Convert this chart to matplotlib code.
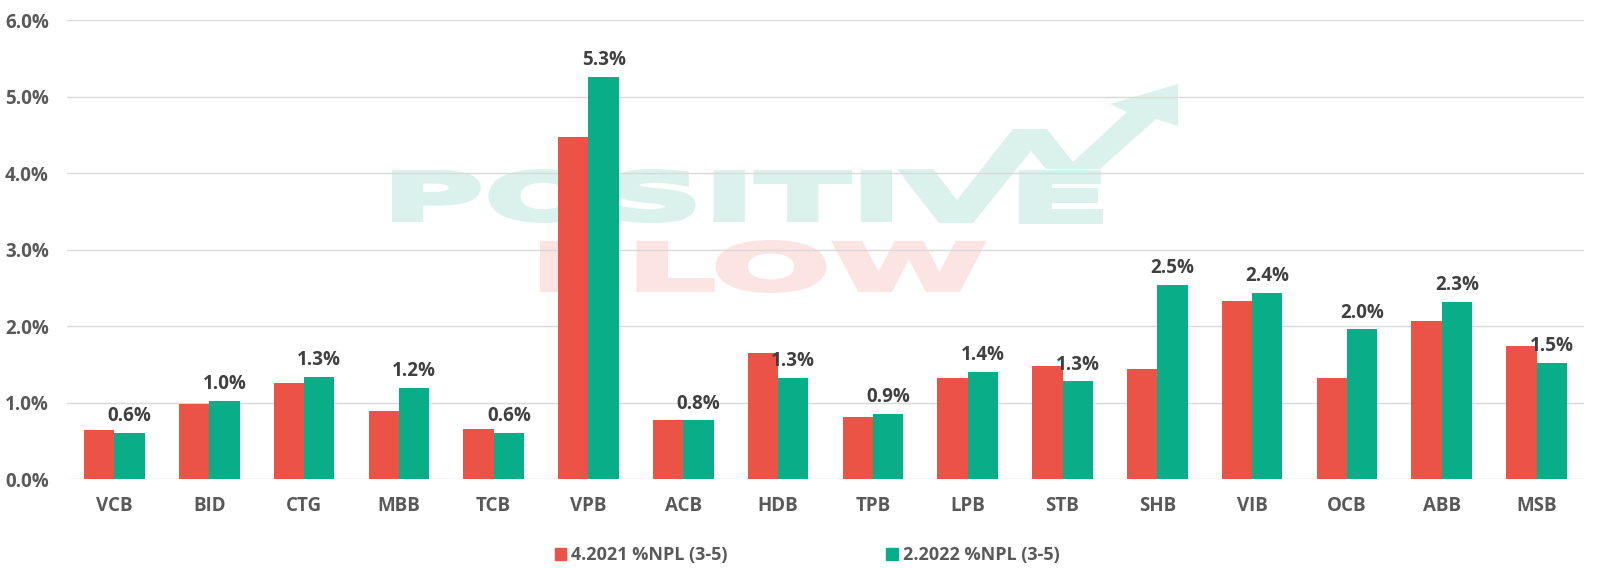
import matplotlib
matplotlib.use('Agg')
import matplotlib.pyplot as plt
import numpy as np
from matplotlib.textpath import TextPath
from matplotlib.font_manager import FontProperties
from matplotlib.patches import PathPatch, Polygon, Patch
from matplotlib.transforms import Affine2D

# data (% NPL, groups 3-5)
banks = ['VCB', 'BID', 'CTG', 'MBB', 'TCB', 'VPB', 'ACB', 'HDB',
         'TPB', 'LPB', 'STB', 'SHB', 'VIB', 'OCB', 'ABB', 'MSB']
npl_2021 = [0.64, 0.98, 1.26, 0.89, 0.66, 4.47, 0.78, 1.65,
            0.82, 1.33, 1.48, 1.44, 2.33, 1.33, 2.07, 1.75]
npl_2022 = [0.61, 1.03, 1.34, 1.20, 0.61, 5.26, 0.77, 1.33,
            0.86, 1.41, 1.28, 2.54, 2.44, 1.96, 2.32, 1.52]
series_names = ['4.2021 %NPL (3-5)', '2.2022 %NPL (3-5)']

red = '#EA5345'
green = '#09AE89'
W, H = 1597, 568

fig = plt.figure(figsize=(W / 100, H / 100), dpi=100)

# watermark layer (pixel coords, y down)
bg = fig.add_axes([0, 0, 1, 1], zorder=0)
bg.set_xlim(0, W)
bg.set_ylim(H, 0)
bg.axis('off')

wm_font = FontProperties(family='DejaVu Sans', weight='bold')
stroke = 5  # px, thickens the letters a bit

def fit_text(s, x0, y0, x1, y1, color):
    tp = TextPath((0, 0), s, size=100, prop=wm_font)
    ext = tp.get_extents()
    a = stroke / 2
    tr = (Affine2D().translate(-ext.x0, -ext.y0)
          .scale((x1 - x0 - 2 * a) / ext.width, -(y1 - y0 - 2 * a) / ext.height)
          .translate(x0 + a, y1 - a))
    bg.add_patch(PathPatch(tr.transform_path(tp), facecolor=color, edgecolor=color,
                           lw=stroke * 72 / 100, joinstyle='miter'))

mint = '#DAF2EB'
pink = '#FCE4E3'
fit_text('POSITI', 392, 169, 892, 223, mint)
fit_text('E', 1018, 169, 1102, 223, mint)
fit_text('FLOW', 540, 240, 985, 293, pink)
arrow = [(897, 169), (933, 169), (957, 200), (1013, 129), (1047, 129),
         (1073, 162), (1127, 112), (1110, 104), (1178, 84), (1178, 126),
         (1156, 119), (1100, 169), (1046, 169), (1031, 151), (973, 223),
         (939, 223)]
bg.add_patch(Polygon(arrow, closed=True, color=mint, lw=0))

# main chart
ax = fig.add_axes([67 / W, 1 - 479.4 / H, (1584 - 67) / W, (479.4 - 20.4) / H], zorder=1)
ax.patch.set_alpha(0)

x = np.arange(len(banks))
w = 0.32
ax.bar(x - w / 2, npl_2021, w, color=red, zorder=3, label=series_names[0])
ax.bar(x + w / 2, npl_2022, w, color=green, zorder=3, label=series_names[1])

ax.set_xlim(-0.5, len(banks) - 0.5)
ax.set_ylim(0, 6)
ax.set_yticks(np.arange(0, 7, 1))
ax.set_yticklabels([f'{v:.1f}%' for v in np.arange(0, 7, 1)])
ax.set_xticks(x)
ax.set_xticklabels(banks)
ax.grid(axis='y', color='#D9D9D9', lw=1)
ax.set_axisbelow(True)
for sp in ax.spines.values():
    sp.set_visible(False)

ax.tick_params(axis='y', length=0, pad=13, labelcolor='#595959')
ax.tick_params(axis='x', length=0, pad=12, labelcolor='#595959')
for lab in ax.get_xticklabels() + ax.get_yticklabels():
    lab.set_fontfamily('Open Sans')
    lab.set_fontweight('bold')
    lab.set_fontsize(13.5)

for xi, v in zip(x, npl_2022):
    ax.annotate(f'{v:.1f}%', (xi + w / 2, v), xytext=(0, 8.5),
                textcoords='offset points', ha='center', va='baseline',
                color='#404040', fontfamily='Open Sans', fontweight='bold',
                fontsize=13.5, zorder=4)

handles = [Patch(color=red, label=series_names[0]),
           Patch(color=green, label=series_names[1])]
leg = fig.legend(handles=handles, loc='center', bbox_to_anchor=(807 / W, 1 - 555 / H),
                 ncol=2, frameon=False, handlelength=0.65, handleheight=0.65,
                 handletextpad=0.25, columnspacing=8.8,
                 prop=FontProperties(family='Open Sans', weight='bold', size=13))
for t in leg.get_texts():
    t.set_color('#595959')

fig.savefig('out.png', dpi=100)
